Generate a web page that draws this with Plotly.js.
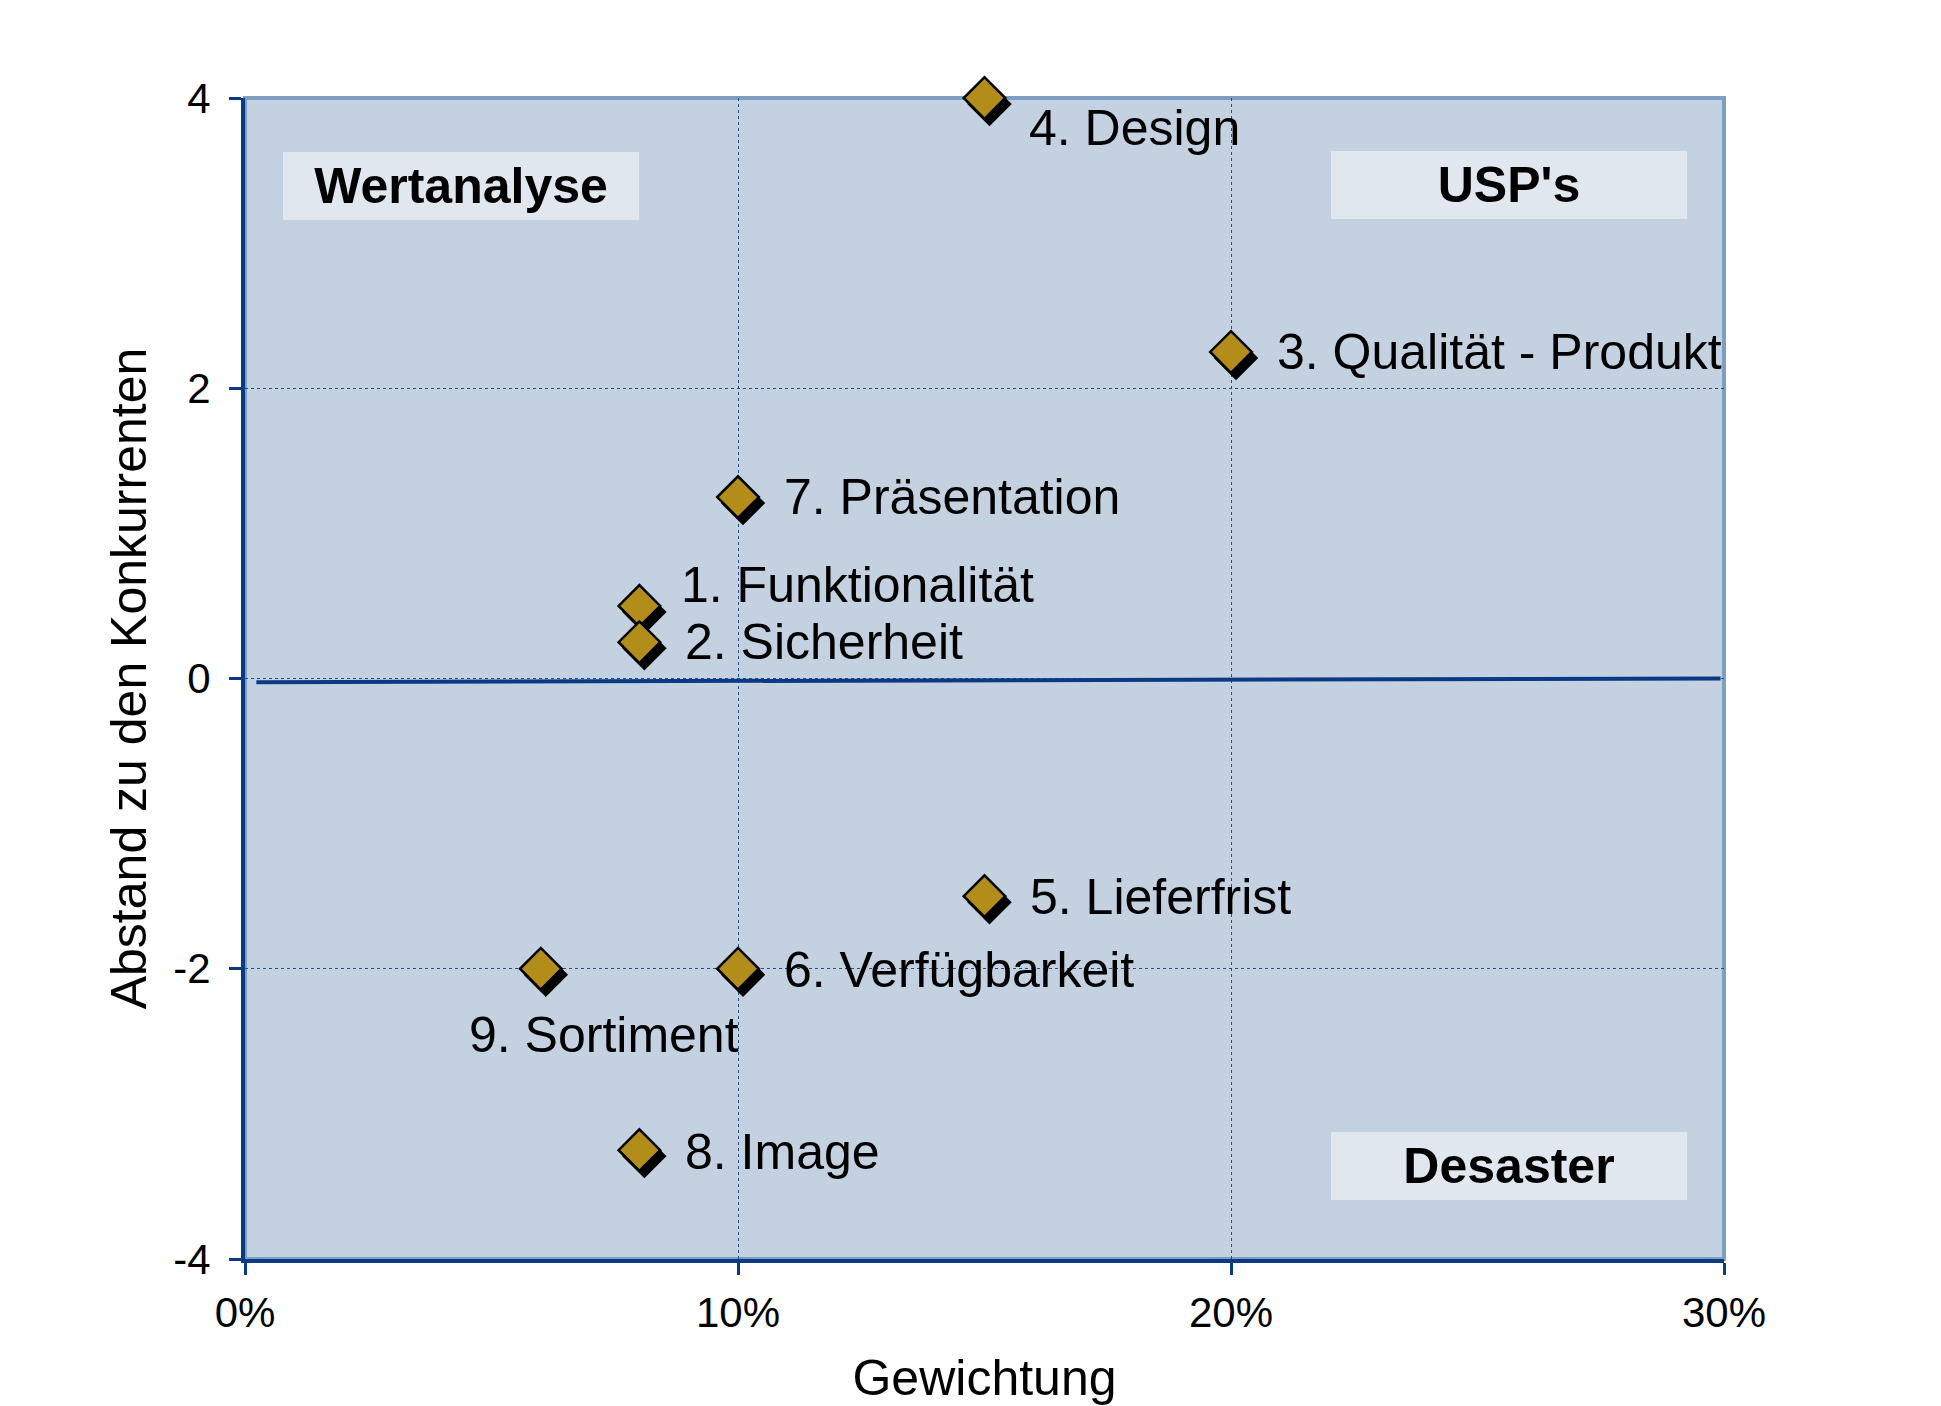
<!DOCTYPE html>
<html>
<head>
<meta charset="utf-8">
<script src="https://cdn.plot.ly/plotly-3.0.1.min.js"></script>
<style>
  html, body { margin: 0; padding: 0; background: #ffffff; }
  #chart { width: 1941px; height: 1406px; }
</style>
</head>
<body>
<div id="chart"></div>
<script>
// ---- Data ----
const categories = [
  '1. Funktionalität',
  '2. Sicherheit',
  '3. Qualität - Produkt',
  '4. Design',
  '5. Lieferfrist',
  '6. Verfügbarkeit',
  '7. Präsentation',
  '8. Image',
  '9. Sortiment'
];
const gewichtung = [0.08, 0.08, 0.20, 0.15, 0.15, 0.10, 0.10, 0.08, 0.06];
const abstand    = [0.5, 0.25, 2.25, 4, -1.5, -2, 1.25, -3.25, -2];

const quadrantLabels = ['Wertanalyse', "USP's", 'Desaster'];

const xTickVals = [0, 0.1, 0.2, 0.3];
const xTickText = ['0%', '10%', '20%', '30%'];
const yTickVals = [-4, -2, 0, 2, 4];
const yTickText = ['-4', '-2', '0', '2', '4'];

// reference line (slightly sloped horizontal line at 0)
const refLineX = [0.0023, 0.2993];
const refLineY = [-0.025, 0];

// ---- Styles ----
const FONT = '"Liberation Sans", Arial, sans-serif';
const NAVY = '#0B3A85';
const BORDER_LIGHT = '#7E9EC2';
const GRID = '#24508F';
const GOLD = '#B38D1A';
const X_RANGE = [0, 0.3];
const Y_RANGE = [-4, 4];
const M = { l: 245, r: 217, t: 98, b: 147 };
const W = 1941, H = 1406;
const plotW = W - M.l - M.r, plotH = H - M.t - M.b;

// shadow offset in px
const SHADOW_DX = 5, SHADOW_DY = 6;
const dxData = SHADOW_DX * (X_RANGE[1] - X_RANGE[0]) / plotW;
const dyData = SHADOW_DY * (Y_RANGE[1] - Y_RANGE[0]) / plotH;

// label placement (px offsets from marker centre), style only
const labelPlacement = [
  { dx: 40,  dy: -21 },  // 1
  { dx: 44,  dy: 0 },    // 2
  { dx: 44,  dy: 0 },    // 3
  { dx: 42,  dy: 30 },   // 4
  { dx: 43,  dy: 1 },    // 5
  { dx: 44,  dy: 1 },    // 6
  { dx: 44,  dy: 0 },    // 7
  { dx: 44,  dy: 2 },    // 8
  { dx: -74, dy: 66 }    // 9
];
const quadPlacement = [
  { x: 0.0438, y: 3.397 },
  { x: 0.2564, y: 3.40 },
  { x: 0.2564, y: -3.36 }
];

const MARKER_SIZE = 32;
const LABEL_FONT = 50;

const traces = [
  {
    type: 'scatter', mode: 'lines',
    x: refLineX, y: refLineY,
    xaxis: 'x', yaxis: 'y',
    line: { color: NAVY, width: 4 },
    hoverinfo: 'skip', showlegend: false
  },
  {
    type: 'scatter', mode: 'markers',
    x: gewichtung, y: abstand,
    xaxis: 'x2', yaxis: 'y2',
    marker: { symbol: 'diamond', size: MARKER_SIZE, color: '#000000', line: { color: '#000000', width: 2 } },
    cliponaxis: false, hoverinfo: 'skip', showlegend: false
  },
  {
    type: 'scatter', mode: 'markers',
    x: gewichtung, y: abstand,
    text: categories,
    xaxis: 'x3', yaxis: 'y3',
    marker: { symbol: 'diamond', size: MARKER_SIZE, color: GOLD, line: { color: '#000000', width: 2.5 } },
    cliponaxis: false, hoverinfo: 'text+x+y', showlegend: false
  }
];

const annotations = [];
categories.forEach((c, i) => {
  annotations.push({
    x: gewichtung[i], y: abstand[i], xref: 'x', yref: 'y',
    text: c, showarrow: false,
    xanchor: 'left', yanchor: 'middle',
    xshift: labelPlacement[i].dx, yshift: -labelPlacement[i].dy,
    font: { family: FONT, size: LABEL_FONT, color: '#000000' }
  });
});
quadrantLabels.forEach((q, i) => {
  annotations.push({
    x: quadPlacement[i].x, y: quadPlacement[i].y, xref: 'x', yref: 'y',
    text: '<b>' + q + '</b>', showarrow: false,
    xanchor: 'center', yanchor: 'middle',
    width: 356, height: 68, borderpad: 0, borderwidth: 0,
    bgcolor: '#E0E7EF',
    font: { family: FONT, size: LABEL_FONT, color: '#000000' }
  });
});

const axisCommon = {
  showgrid: true, gridcolor: GRID, gridwidth: 1, griddash: '3px,3px',
  zeroline: false, showline: true, linecolor: NAVY, linewidth: 4,
  ticks: 'outside', ticklen: 12, tickwidth: 3, tickcolor: NAVY,
  tickfont: { family: FONT, size: 42, color: '#000000' },
  fixedrange: true
};

const layout = {
  width: W, height: H,
  margin: M,
  paper_bgcolor: '#ffffff',
  plot_bgcolor: '#C4D1E0',
  showlegend: false,
  font: { family: FONT, color: '#000000' },
  xaxis: Object.assign({}, axisCommon, {
    range: X_RANGE, tickvals: xTickVals, ticktext: xTickText,
    ticklabelstandoff: 2,
    title: { text: 'Gewichtung', font: { family: FONT, size: LABEL_FONT, color: '#000000' }, standoff: 28 }
  }),
  yaxis: Object.assign({}, axisCommon, {
    range: Y_RANGE, tickvals: yTickVals, ticktext: yTickText,
    ticklabelstandoff: 10,
    title: { text: 'Abstand zu den Konkurrenten', font: { family: FONT, size: LABEL_FONT, color: '#000000' }, standoff: 12 }
  }),
  xaxis2: { overlaying: 'x', range: [X_RANGE[0] - dxData, X_RANGE[1] - dxData], visible: false, fixedrange: true },
  yaxis2: { overlaying: 'y', range: [Y_RANGE[0] + dyData, Y_RANGE[1] + dyData], visible: false, fixedrange: true },
  xaxis3: { overlaying: 'x', range: X_RANGE, visible: false, fixedrange: true },
  yaxis3: { overlaying: 'y', range: Y_RANGE, visible: false, fixedrange: true },
  shapes: [{
    type: 'rect', xref: 'paper', yref: 'paper', x0: 0, x1: 1, y0: 0, y1: 1,
    line: { color: BORDER_LIGHT, width: 4 }, fillcolor: 'rgba(0,0,0,0)', layer: 'below'
  }],
  annotations: annotations
};

Plotly.newPlot('chart', traces, layout, { displayModeBar: false, staticPlot: true });
</script>
</body>
</html>
